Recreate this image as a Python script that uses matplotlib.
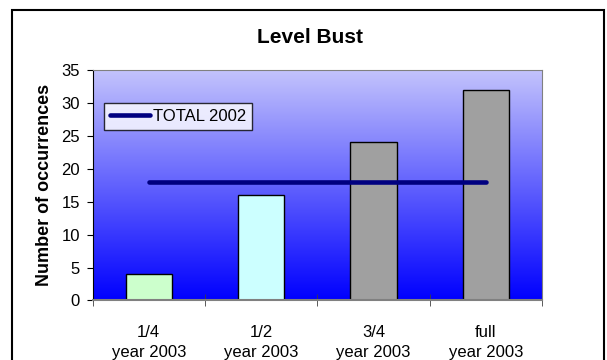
import numpy as np
import matplotlib.pyplot as plt
from matplotlib.colors import LinearSegmentedColormap
from matplotlib.patches import Rectangle

plt.rcParams['font.family'] = ['Liberation Sans', 'DejaVu Sans']

categories = ["1/4\nyear 2003", "1/2\nyear 2003", "3/4\nyear 2003", "full\nyear 2003"]
occurrences = [4, 16, 24, 32]
bar_colors = ["#CCFFCC", "#CCFFFF", "#A0A0A0", "#A0A0A0"]
total_2002 = [18, 18, 18, 18]

fig = plt.figure(figsize=(6.07, 3.6), dpi=100)
ax = fig.add_axes([0.1524, 0.1653, 0.7406, 0.6403])

x = np.arange(1, len(categories) + 1)

# gradient background of the plot area
grad = np.linspace(0, 1, 256).reshape(-1, 1)
cmap = LinearSegmentedColormap.from_list("bg", ["#0000FF", "#C4C4FC"])
ax.imshow(grad, aspect="auto", cmap=cmap, origin="lower",
          extent=[0.5, 4.5, 0, 35], zorder=0)

ax.bar(x, occurrences, width=0.41, color=bar_colors, edgecolor="black",
       linewidth=1, zorder=2)
ax.plot(x, total_2002, color="#000080", linewidth=3.3, label="TOTAL 2002",
        solid_capstyle="round", zorder=3)

ax.set_xlim(0.5, 4.5)
ax.set_ylim(0, 35)
ax.set_yticks(range(0, 36, 5))
ax.set_xticks(x)
ax.set_xticklabels(categories, fontsize=12, linespacing=1.35)
ax.set_xticks(np.arange(0.5, 4.6, 1), minor=True)
ax.tick_params(axis="x", which="major", length=0, pad=18)
ax.tick_params(axis="x", which="minor", direction="inout", length=9,
               color="#404040")
ax.tick_params(axis="y", direction="out", length=4, pad=5, labelsize=12)

for s in ["top", "right", "bottom"]:
    ax.spines[s].set_color("#808080")
ax.spines["bottom"].set_linewidth(1.5)
ax.spines["left"].set_color("black")

ax.set_ylabel("Number of occurrences", fontsize=13, fontweight="bold",
              labelpad=6)
fig.text(0.51, 0.897, "Level Bust", ha="center", va="center", fontsize=15,
         fontweight="bold")

leg = ax.legend(loc="upper left", bbox_to_anchor=(0.025, 0.855),
                fontsize=12, frameon=True, fancybox=False, handlelength=2.4,
                handletextpad=0.2, borderpad=0.35, borderaxespad=0)
leg.get_frame().set_edgecolor("black")
leg.get_frame().set_linewidth(1)

# outer chart frame
fig.patches.append(Rectangle((12 / 607, -0.1), 592 / 607, 1 - 10 / 360 + 0.1,
                             transform=fig.transFigure, fill=False,
                             edgecolor="black", linewidth=1.5))

fig.savefig("out.png", dpi=100)
